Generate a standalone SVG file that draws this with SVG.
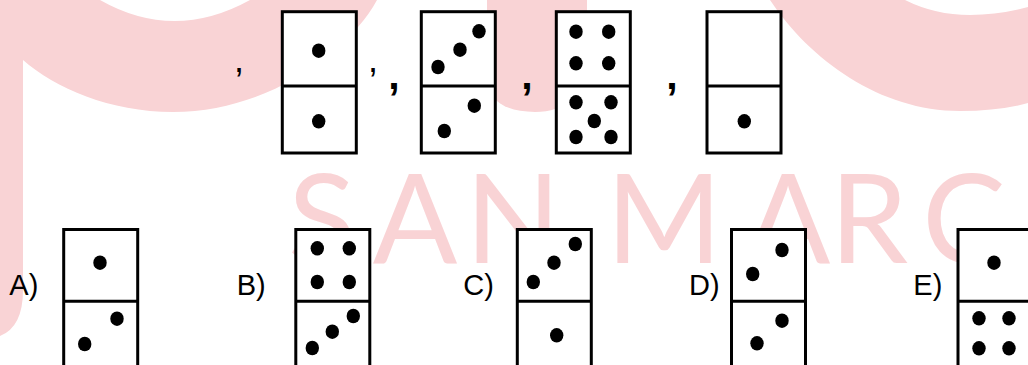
<svg xmlns="http://www.w3.org/2000/svg" xmlns:xlink="http://www.w3.org/1999/xlink" width="1028" height="365" viewBox="0 0 1028 365">
<style>
.wm{fill:#F9D3D5}
.wmt{fill:#F9D3D5;font-family:Lato,"Open Sans",sans-serif;font-size:125px;font-weight:400}
.box{fill:#fff;stroke:#000;stroke-width:3}
.div{stroke:#000;stroke-width:3}
.lbl{font-family:"Liberation Sans",Arial,sans-serif;font-size:29px;fill:#000}
.cm{font-family:"Liberation Sans",Arial,sans-serif;font-size:36px;fill:#000;text-anchor:middle}
.cmb{font-family:"Liberation Sans",Arial,sans-serif;font-size:41px;font-weight:bold;fill:#000;text-anchor:middle}
</style>
<defs>
<ellipse id="p" cx="0" cy="0" rx="6.7" ry="7.3" fill="#000"/>
</defs>
<rect width="1028" height="365" fill="#fff"/>
<g id="watermark">
<path class="wm" d="M0,0 H100 Q174,42 250,0 H377 C350,50 270,112 173,112 C110,112 55,88 23,60 V290 Q23,327 0,336 Z"/>
<path class="wm" d="M487,0 H587 V62 C587,95 565,112 535,112 C505,112 487,100 487,78 Z"/>
<path class="wm" d="M770,0 H905 Q935,15 970,15 Q1000,15 1028,7 V103 Q1000,111 960,111 C880,111 810,60 770,0 Z"/>
<text class="wmt" x="322 415 513 590 664 788 869 964" y="263" text-anchor="middle">SAN MARC</text>
</g>
<g id="commas">
<text class="cm" x="239" y="72">,</text>
<text class="cm" x="373" y="72">,</text>
<text class="cmb" x="394" y="89">,</text>
<text class="cmb" x="527" y="89">,</text>
<text class="cmb" x="672" y="89">,</text>
</g>
<g id="seq1">
<rect class="box" x="282.3" y="11.7" width="74" height="141.3"/>
<line class="div" x1="282.3" y1="86" x2="356.3" y2="86"/>
<use xlink:href="#p" x="318.7" y="50.7"/>
<use xlink:href="#p" x="318.7" y="121.3"/>
</g>
<g id="seq2">
<rect class="box" x="421.3" y="11.7" width="74" height="141.3"/>
<line class="div" x1="421.3" y1="86" x2="495.3" y2="86"/>
<use xlink:href="#p" x="479" y="31.3"/>
<use xlink:href="#p" x="460" y="49.7"/>
<use xlink:href="#p" x="438" y="67"/>
<use xlink:href="#p" x="474.3" y="105.7"/>
<use xlink:href="#p" x="444.3" y="131"/>
</g>
<g id="seq3">
<rect class="box" x="556.3" y="11.7" width="74" height="141.3"/>
<line class="div" x1="556.3" y1="86" x2="630.3" y2="86"/>
<use xlink:href="#p" x="576" y="31.7"/>
<use xlink:href="#p" x="608.7" y="31.7"/>
<use xlink:href="#p" x="576" y="63.3"/>
<use xlink:href="#p" x="608.7" y="63.3"/>
<use xlink:href="#p" x="576" y="102.3"/>
<use xlink:href="#p" x="611" y="102.3"/>
<use xlink:href="#p" x="594.3" y="121"/>
<use xlink:href="#p" x="576" y="137"/>
<use xlink:href="#p" x="611" y="137"/>
</g>
<g id="seq4">
<rect class="box" x="707" y="11.7" width="74" height="141.3"/>
<line class="div" x1="707" y1="86" x2="781" y2="86"/>
<use xlink:href="#p" x="744.3" y="121.3"/>
</g>
<g id="optA">
<text class="lbl" x="9.3" y="295">A)</text>
<rect class="box" x="63.7" y="229.5" width="74" height="141.3"/>
<line class="div" x1="63.7" y1="301.3" x2="137.7" y2="301.3"/>
<use xlink:href="#p" x="100" y="262.7"/>
<use xlink:href="#p" x="117" y="318.7"/>
<use xlink:href="#p" x="84.7" y="344"/>
</g>
<g id="optB">
<text class="lbl" x="236.7" y="295">B)</text>
<rect class="box" x="295.8" y="229.5" width="74" height="141.3"/>
<line class="div" x1="295.8" y1="301.3" x2="369.8" y2="301.3"/>
<use xlink:href="#p" x="317.3" y="248.3"/>
<use xlink:href="#p" x="349.3" y="248.3"/>
<use xlink:href="#p" x="317.3" y="282"/>
<use xlink:href="#p" x="349.3" y="282"/>
<use xlink:href="#p" x="353.3" y="316"/>
<use xlink:href="#p" x="332.3" y="331.7"/>
<use xlink:href="#p" x="312.3" y="348"/>
</g>
<g id="optC">
<text class="lbl" x="463.3" y="295">C)</text>
<rect class="box" x="517.3" y="229.5" width="74" height="141.3"/>
<line class="div" x1="517.3" y1="301.3" x2="591.3" y2="301.3"/>
<use xlink:href="#p" x="575.3" y="244"/>
<use xlink:href="#p" x="554" y="262.7"/>
<use xlink:href="#p" x="533.3" y="282"/>
<use xlink:href="#p" x="556.7" y="335.3"/>
</g>
<g id="optD">
<text class="lbl" x="689" y="295">D)</text>
<rect class="box" x="731.5" y="229.5" width="74" height="141.3"/>
<line class="div" x1="731.5" y1="301.3" x2="805.5" y2="301.3"/>
<use xlink:href="#p" x="782" y="250"/>
<use xlink:href="#p" x="752.7" y="274"/>
<use xlink:href="#p" x="782" y="320.7"/>
<use xlink:href="#p" x="757" y="343.3"/>
</g>
<g id="optE">
<text class="lbl" x="913.3" y="295">E)</text>
<rect class="box" x="958" y="229.5" width="74" height="141.3"/>
<line class="div" x1="958" y1="301.3" x2="1032" y2="301.3"/>
<use xlink:href="#p" x="994" y="262.7"/>
<use xlink:href="#p" x="979" y="318.3"/>
<use xlink:href="#p" x="1009" y="318.3"/>
<use xlink:href="#p" x="979" y="348.3"/>
<use xlink:href="#p" x="1009" y="348.3"/>
</g>
</svg>
